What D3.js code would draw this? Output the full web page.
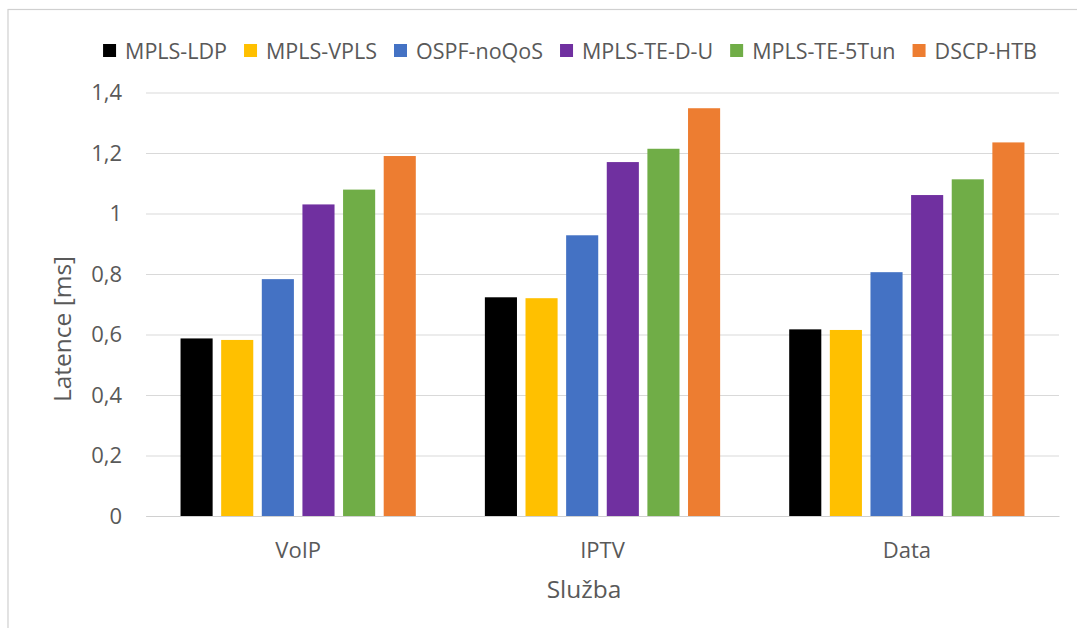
<!DOCTYPE html>
<html>
<head>
<meta charset="utf-8">
<script src="https://cdn.jsdelivr.net/npm/d3@7"></script>
<style>
  body { margin: 0; background: #fff; }
  text { font-family: "Open Sans", sans-serif; fill: #595959; }
</style>
</head>
<body>
<svg id="chart"></svg>
<script>
// data
const categories = ["VoIP", "IPTV", "Data"];
const seriesNames = ["MPLS-LDP", "MPLS-VPLS", "OSPF-noQoS", "MPLS-TE-D-U", "MPLS-TE-5Tun", "DSCP-HTB"];
const mplsLdp    = [0.587, 0.723, 0.617];
const mplsVpls   = [0.582, 0.720, 0.615];
const ospfNoQos  = [0.783, 0.928, 0.806];
const mplsTeDU   = [1.030, 1.170, 1.061];
const mplsTe5Tun = [1.079, 1.214, 1.113];
const dscpHtb    = [1.190, 1.348, 1.235];
const yTicks = [0, 0.2, 0.4, 0.6, 0.8, 1, 1.2, 1.4];
const yLabel = "Latence [ms]";
const xLabel = "Služba";

const colors = ["#000000", "#FFC000", "#4472C4", "#7030A0", "#70AD47", "#ED7D31"];

const seriesValues = [mplsLdp, mplsVpls, ospfNoQos, mplsTeDU, mplsTe5Tun, dscpHtb];

const margin = {top: 92.5, right: 18, bottom: 112, left: 146},
    svgWidth = 1077,
    svgHeight = 628,
    width = svgWidth - margin.left - margin.right,
    height = svgHeight - margin.top - margin.bottom;

const commaFmt = d3.formatLocale({decimal: ",", thousands: " ", grouping: [3], currency: ["", ""]}).format("~g");

const chart = d3.select("#chart")
    .attr("width", svgWidth)
    .attr("height", svgHeight);

// outer frame of the chart object (cut off right and bottom)
chart.append("rect")
    .attr("x", 8).attr("y", 9.5)
    .attr("width", svgWidth + 20).attr("height", svgHeight + 20)
    .attr("fill", "none")
    .attr("stroke", "#d0d0d0")
    .attr("stroke-width", 1.2);

const g = chart.append("g")
    .attr("transform", `translate(${margin.left},${margin.top})`);

var x0 = d3.scaleBand().domain(categories).range([0, width]).padding(0);
var x1 = d3.scaleBand().domain(seriesNames).range([0, x0.bandwidth()])
    .paddingInner(0.21).paddingOuter(0.85);
var yScale = d3.scaleLinear().domain([0, 1.4]).range([height, 0]);

// gridlines
var yAxis = d3.axisLeft(yScale).tickValues(yTicks).tickFormat(commaFmt)
    .tickSize(-width).tickPadding(24);
g.append("g")
    .attr("class", "y-axis")
    .call(yAxis)
    .call(s => s.select(".domain").remove())
    .call(s => s.selectAll("line").attr("stroke", "#d9d9d9").attr("stroke-width", 1.2))
    .call(s => s.selectAll("text")
        .style("font-family", "'Open Sans', sans-serif")
        .style("font-size", "22px")
        .attr("fill", "#595959"));

// bars
const groups = g.selectAll(".cat")
    .data(categories)
    .enter()
    .append("g")
    .attr("class", "cat")
    .attr("transform", d => `translate(${x0(d)},0)`);

groups.selectAll("rect")
    .data((c, ci) => seriesNames.map((s, si) => ({series: s, value: seriesValues[si][ci], color: colors[si]})))
    .enter()
    .append("rect")
    .attr("x", d => x1(d.series))
    .attr("y", d => yScale(d.value))
    .attr("width", x1.bandwidth())
    .attr("height", d => height - yScale(d.value))
    .attr("fill", d => d.color);

// x axis
var xAxis = d3.axisBottom(x0).tickSize(0).tickPadding(26);
g.append("g")
    .attr("transform", `translate(0,${height})`)
    .call(xAxis)
    .call(s => s.select(".domain").attr("stroke", "#d0d0d0").attr("stroke-width", 1.2))
    .call(s => s.selectAll("text")
        .style("font-family", "'Open Sans', sans-serif")
        .style("font-size", "22px")
        .attr("fill", "#595959"));

// axis titles
chart.append("text")
    .attr("transform", "translate(71,329) rotate(-90)")
    .attr("text-anchor", "middle")
    .style("font-size", "24.5px")
    .text(yLabel);

chart.append("text")
    .attr("x", 584)
    .attr("y", 598)
    .attr("text-anchor", "middle")
    .style("font-size", "24.5px")
    .text(xLabel);

// legend, laid out from measured text widths and centred
const legendGap = 17;
const legend = chart.append("g").attr("class", "legend");
const items = legend.selectAll(".item")
    .data(seriesNames)
    .enter()
    .append("g")
    .attr("class", "item");

items.append("rect")
    .attr("width", 13).attr("height", 13)
    .attr("y", 44)
    .attr("fill", (d, i) => colors[i]);

items.append("text")
    .attr("x", 22)
    .attr("y", 58.5)
    .style("font-size", "21.5px")
    .text(d => d);

var offsets = [], cur = 0;
items.each(function() {
    offsets.push(cur);
    cur += 22 + this.querySelector("text").getComputedTextLength() + legendGap;
});
const legendWidth = cur - legendGap;
const legendStart = 570 - legendWidth / 2;
items.attr("transform", (d, i) => `translate(${legendStart + offsets[i]},0)`);
</script>
</body>
</html>
